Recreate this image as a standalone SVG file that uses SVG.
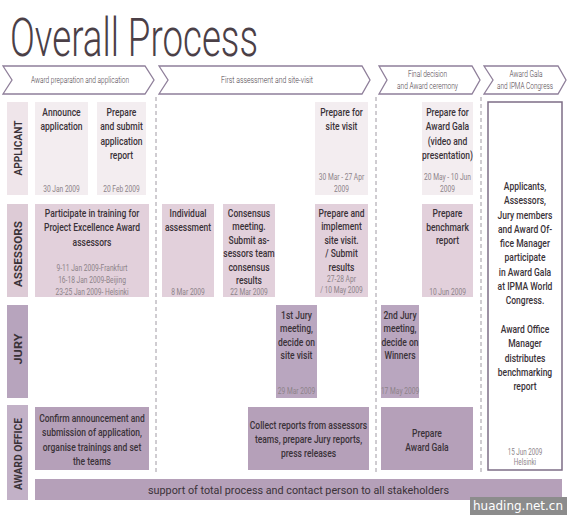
<svg xmlns="http://www.w3.org/2000/svg" width="567" height="515" viewBox="0 0 567 515">
<style>
text{font-family:Roboto,"Liberation Sans",sans-serif}
.title{font-weight:300;font-size:54px;fill:#4b4047}
.chev{fill:#ffffff;stroke:#8f7f9a;stroke-width:1.3}
.ph{font-weight:300;font-size:8.5px;fill:#4a4048;text-anchor:middle}
.lbl{font-weight:700;font-size:10px;fill:#3a3238;text-anchor:middle}
.t{font-weight:500;font-size:11.5px;fill:#3a3238;text-anchor:middle}
.d{font-weight:400;font-size:9px;fill:#8d8389;text-anchor:middle}
.ap{fill:#f3edf0}.apl{fill:#efe5ea}
.as{fill:#e2d0db}.asl{fill:#ddcbd6}
.ju{fill:#b9a6bf}.jul{fill:#b7a4bd}
.ao{fill:#b5a0b9}.aol{fill:#c2b1c7}
.div{stroke:#a09aa3;stroke-width:1;stroke-dasharray:4 3;fill:none}
</style>
<rect width="567" height="515" fill="#ffffff"/>
<text class="title" x="10" y="56" textLength="248" lengthAdjust="spacingAndGlyphs">Overall Process</text>

<g id="phases">
<g id="phase1"><path class="chev" d="M3,66 L145,66 L154,80 L145,94 L3,94 L12,80 Z"/><text class="ph" x="80" y="83" textLength="98" lengthAdjust="spacingAndGlyphs">Award preparation and application</text></g>
<g id="phase2"><path class="chev" d="M159,66 L362,66 L370,80 L362,94 L159,94 L168,80 Z"/><text class="ph" x="267" y="83" textLength="92" lengthAdjust="spacingAndGlyphs">First assessment and site-visit</text></g>
<g id="phase3"><path class="chev" d="M379,66 L472,66 L480,80 L472,94 L379,94 L387,80 Z"/><text class="ph" x="427.5" y="77" textLength="39" lengthAdjust="spacingAndGlyphs">Final decision</text><text class="ph" x="427.5" y="89" textLength="61" lengthAdjust="spacingAndGlyphs">and Award ceremony</text></g>
<g id="phase4"><path class="chev" d="M484,66 L558,66 L566,80 L558,94 L484,94 L493,80 Z"/><text class="ph" x="526" y="77" textLength="33" lengthAdjust="spacingAndGlyphs">Award Gala</text><text class="ph" x="525" y="88.5" textLength="56" lengthAdjust="spacingAndGlyphs">and IPMA Congress</text></g>
</g>

<g id="connectors">
<line class="div" x1="156" y1="97" x2="156" y2="472"/>
<line class="div" x1="376" y1="97" x2="376" y2="472"/>
<line class="div" x1="481" y1="97" x2="481" y2="472"/>
</g>

<g id="lane-applicant">
<rect class="apl" x="7" y="102" width="21" height="93"/>
<text class="lbl" transform="translate(21.5 148) rotate(-90)" textLength="55" lengthAdjust="spacingAndGlyphs">APPLICANT</text>
</g>
<g id="announce">
<rect class="ap" x="35" y="102" width="53" height="93"/>
<g transform="translate(61.5 0) scale(0.74 1)"><text class="t" x="0" y="116">Announce</text><text class="t" x="0" y="130.3">application</text><text class="d" x="0" y="192">30 Jan 2009</text></g>
</g>
<g id="submit">
<rect class="ap" x="97" y="102" width="49" height="93"/>
<g transform="translate(121.5 0) scale(0.74 1)"><text class="t" x="0" y="116">Prepare</text><text class="t" x="0" y="130.3">and submit</text><text class="t" x="0" y="144.6">application</text><text class="t" x="0" y="159">report</text><text class="d" x="0" y="192">20 Feb 2009</text></g>
</g>
<g id="prep-site">
<rect class="ap" x="315" y="102" width="53" height="93"/>
<g transform="translate(341.5 0) scale(0.74 1)"><text class="t" x="0" y="116">Prepare for</text><text class="t" x="0" y="130.3">site visit</text><text class="d" x="0" y="180.3">30 Mar - 27 Apr</text><text class="d" x="0" y="192">2009</text></g>
</g>
<g id="prep-gala">
<rect class="ap" x="422" y="102" width="51" height="93"/>
<g transform="translate(447.5 0) scale(0.74 1)"><text class="t" x="0" y="116">Prepare for</text><text class="t" x="0" y="130.3">Award Gala</text><text class="t" x="0" y="144.6">(video and</text><text class="t" x="0" y="159">presentation)</text><text class="d" x="0" y="180.3">20 May - 10 Jun</text><text class="d" x="0" y="192">2009</text></g>
</g>

<g id="lane-assessors">
<rect class="asl" x="7" y="204" width="21" height="93"/>
<text class="lbl" transform="translate(21.5 254) rotate(-90)" textLength="66" lengthAdjust="spacingAndGlyphs">ASSESSORS</text>
</g>
<g id="training">
<rect class="as" x="35" y="204" width="114" height="93"/>
<g transform="translate(92 0) scale(0.74 1)"><text class="t" x="0" y="217">Participate in training for</text><text class="t" x="0" y="231.5">Project Excellence Award</text><text class="t" x="0" y="246">assessors</text><text class="d" x="0" y="271">9-11 Jan 2009-Frankfurt</text><text class="d" x="0" y="283">16-18 Jan 2009-Beijing</text><text class="d" x="0" y="295">23-25 Jan 2009- Helsinki</text></g>
</g>
<g id="individual">
<rect class="as" x="162" y="204" width="52" height="93"/>
<g transform="translate(188 0) scale(0.74 1)"><text class="t" x="0" y="217">Individual</text><text class="t" x="0" y="231">assessment</text><text class="d" x="0" y="295">8 Mar 2009</text></g>
</g>
<g id="consensus">
<rect class="as" x="223" y="204" width="52" height="93"/>
<g transform="translate(249 0) scale(0.74 1)"><text class="t" x="0" y="217">Consensus</text><text class="t" x="0" y="230.5">meeting.</text><text class="t" x="0" y="244">Submit as-</text><text class="t" x="0" y="257.5">sessors team</text><text class="t" x="0" y="271">consensus</text><text class="t" x="0" y="284.5">results</text><text class="d" x="0" y="295.5">22 Mar 2009</text></g>
</g>
<g id="site-visit">
<rect class="as" x="315" y="204" width="53" height="93"/>
<g transform="translate(341.5 0) scale(0.74 1)"><text class="t" x="0" y="217">Prepare and</text><text class="t" x="0" y="230.5">implement</text><text class="t" x="0" y="244">site visit.</text><text class="t" x="0" y="257.5">/ Submit</text><text class="t" x="0" y="271">results</text><text class="d" x="0" y="282">27-28 Apr</text><text class="d" x="0" y="293.5">/ 10 May 2009</text></g>
</g>
<g id="benchmark">
<rect class="as" x="422" y="204" width="51" height="93"/>
<g transform="translate(447.5 0) scale(0.74 1)"><text class="t" x="0" y="217">Prepare</text><text class="t" x="0" y="231">benchmark</text><text class="t" x="0" y="244.5">report</text><text class="d" x="0" y="295">10 Jun 2009</text></g>
</g>

<g id="lane-jury">
<rect class="jul" x="7" y="305" width="21" height="93"/>
<text class="lbl" transform="translate(21.5 349) rotate(-90)" textLength="31" lengthAdjust="spacingAndGlyphs">JURY</text>
</g>
<g id="jury1">
<rect class="ju" x="276" y="305" width="41" height="93"/>
<g transform="translate(296.5 0) scale(0.74 1)"><text class="t" x="0" y="319">1st Jury</text><text class="t" x="0" y="332.5">meeting,</text><text class="t" x="0" y="346">decide on</text><text class="t" x="0" y="359.5">site visit</text><text class="d" x="0" y="394">29 Mar 2009</text></g>
</g>
<g id="jury2">
<rect class="ju" x="381" y="305" width="38" height="93"/>
<g transform="translate(400 0) scale(0.74 1)"><text class="t" x="0" y="319">2nd Jury</text><text class="t" x="0" y="332.5">meeting,</text><text class="t" x="0" y="346">decide on</text><text class="t" x="0" y="359.5">Winners</text><text class="d" x="0" y="394">17 May 2009</text></g>
</g>

<g id="lane-office">
<rect class="aol" x="7" y="405" width="21" height="95"/>
<text class="lbl" transform="translate(21.5 454) rotate(-90)" textLength="72" lengthAdjust="spacingAndGlyphs">AWARD OFFICE</text>
</g>
<g id="confirm">
<rect class="ao" x="35" y="407" width="114" height="63"/>
<g transform="translate(92 0) scale(0.74 1)"><text class="t" x="0" y="422">Confirm announcement and</text><text class="t" x="0" y="436.5">submission of application,</text><text class="t" x="0" y="451">organise trainings and set</text><text class="t" x="0" y="465.5">the teams</text></g>
</g>
<g id="collect">
<rect class="ao" x="248" y="407" width="121" height="63"/>
<g transform="translate(308.5 0) scale(0.74 1)"><text class="t" x="0" y="429">Collect reports from assessors</text><text class="t" x="0" y="443">teams, prepare Jury reports,</text><text class="t" x="0" y="457">press releases</text></g>
</g>
<g id="prep-gala-office">
<rect class="ao" x="381" y="407" width="92" height="63"/>
<g transform="translate(427 0) scale(0.74 1)"><text class="t" x="0" y="437">Prepare</text><text class="t" x="0" y="451">Award Gala</text></g>
</g>
<g id="support">
<rect class="ao" x="35" y="479" width="527" height="21"/>
<text x="298.5" y="494" style="font-weight:400;font-size:11px;fill:#3a3238;text-anchor:middle" textLength="301" lengthAdjust="spacingAndGlyphs">support of total process and contact person to all stakeholders</text>
</g>

<g id="gala-congress">
<rect x="488" y="102" width="74" height="368" fill="#ffffff" stroke="#7d6d86" stroke-width="1.5"/>
<g transform="translate(525 0) scale(0.74 1)">
<text class="t" x="0" y="190">Applicants,</text>
<text class="t" x="0" y="204.3">Assessors,</text>
<text class="t" x="0" y="218.6">Jury members</text>
<text class="t" x="0" y="232.9">and Award Of-</text>
<text class="t" x="0" y="247.2">fice Manager</text>
<text class="t" x="0" y="261.5">participate</text>
<text class="t" x="0" y="275.8">in Award Gala</text>
<text class="t" x="0" y="290.1">at IPMA World</text>
<text class="t" x="0" y="304.4">Congress.</text>
<text class="t" x="0" y="333">Award Office</text>
<text class="t" x="0" y="347.3">Manager</text>
<text class="t" x="0" y="361.6">distributes</text>
<text class="t" x="0" y="375.9">benchmarking</text>
<text class="t" x="0" y="390.2">report</text>
<text class="d" x="0" y="455" style="font-size:8.5px">15 Jun 2009</text>
<text class="d" x="0" y="465.2" style="font-size:8.5px">Helsinki</text>
</g>
</g>

<g id="watermark">
<rect x="470" y="497" width="97" height="18" fill="#8c8c8c"/>
<text x="473" y="510" style="font-family:'DejaVu Sans',sans-serif;font-size:12px;fill:#ffffff" textLength="90" lengthAdjust="spacingAndGlyphs">huading.net.cn</text>
</g>
</svg>
